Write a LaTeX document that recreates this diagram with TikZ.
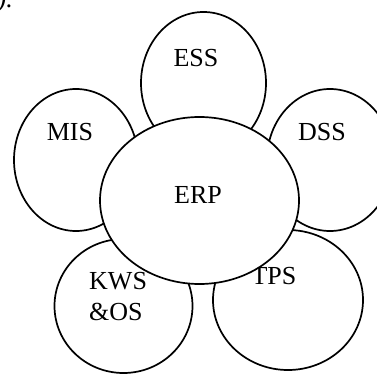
\documentclass[tikz,border=0pt]{standalone}
\usepackage{fontspec}
\setmainfont{Liberation Serif}
\begin{document}
\begin{tikzpicture}[x=1pt,y=-1pt,
  petal/.style={draw=black,fill=white,line width=1.7pt},
  lbl/.style={font=\fontsize{26}{31}\selectfont,inner sep=0pt,align=left}]
\useasboundingbox (0,0) rectangle (377,374);
\clip (0,0) rectangle (377,374);
\node[lbl,anchor=base east] (frag) at (13,8) {\itshape y).};
% petals
\draw[petal] (203.5,83) ellipse [x radius=62.5, y radius=71];
\node[lbl] (ess) at (196,58) {ESS};
\draw[petal] (76,160) ellipse [x radius=62, y radius=71];
\node[lbl] (mis) at (70,132) {MIS};
\draw[petal] (330,160) ellipse [x radius=63, y radius=71];
\node[lbl] (dss) at (322,132) {DSS};
\draw[petal] (123.5,306) ellipse [x radius=69, y radius=67];
\node[lbl,anchor=west] (kws) at (89,297) {KWS\\\&OS};
\draw[petal] (288,300) ellipse [x radius=75, y radius=70];
\node[lbl] (tps) at (274,276) {TPS};
% centre
\draw[petal] (199.5,200.5) ellipse [x radius=99.5, y radius=83.5];
\node[lbl] (erp) at (198,195) {ERP};
\end{tikzpicture}
\end{document}
